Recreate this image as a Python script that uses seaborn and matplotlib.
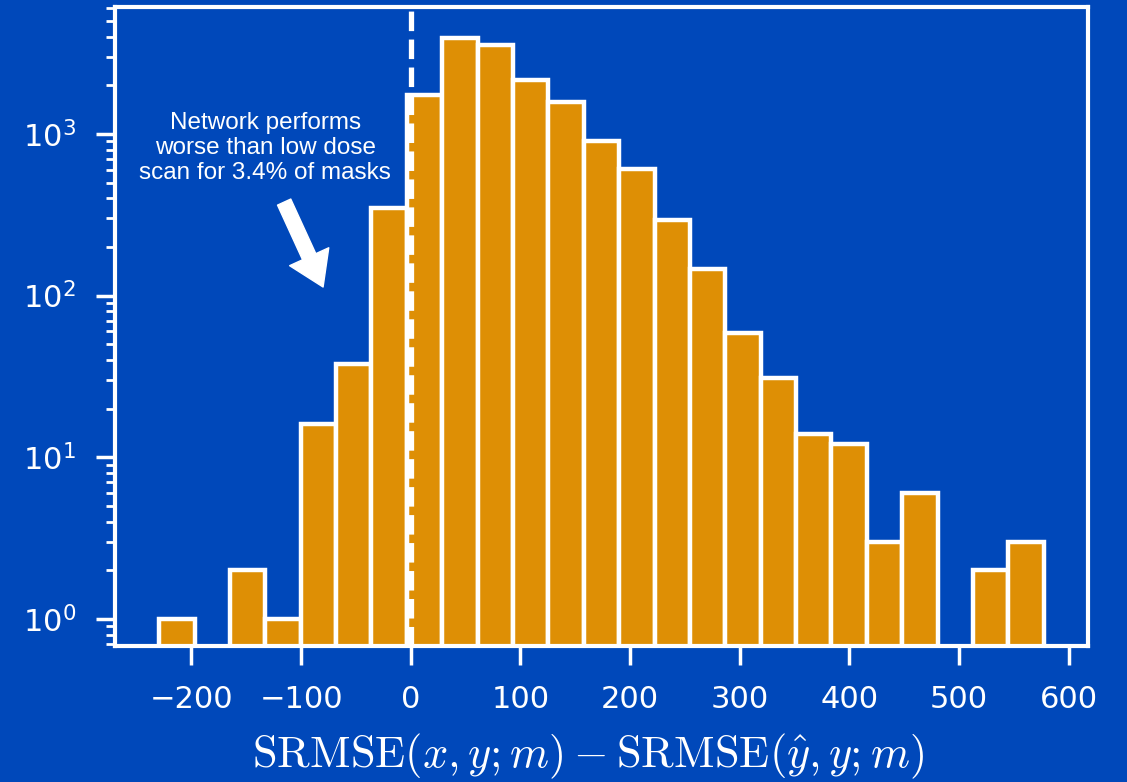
import numpy as np
import pandas as pd
import matplotlib
matplotlib.use("Agg")
import matplotlib.pyplot as plt
import seaborn as sns

# datos del histograma (conteos por bin)
bin_lo = -229.5
bin_hi = 577.3
n_bins = 25
counts = [1, 0, 2, 1, 16, 38, 348, 1740, 3918, 3548, 2153, 1575, 904,
          607, 294, 147, 59, 31, 14, 12, 3, 6, 0, 2, 3]
nota = "Network performs\nworse than low dose\nscan for 3.4% of masks"
etiqueta_x = r"$\mathrm{SRMSE}(x, y; m) - \mathrm{SRMSE}(\hat{y}, y; m)$"
x_ticks = [-200, -100, 0, 100, 200, 300, 400, 500, 600]

edges = np.linspace(bin_lo, bin_hi, n_bins + 1)
datos = pd.DataFrame({
    "centro": (edges[:-1] + edges[1:]) / 2,
    "conteo": counts,
})

azul = "#0048BA"
naranja = "#DE8F05"

fig = plt.figure(figsize=(11.27, 7.82), dpi=100, facecolor=azul)
ax = fig.add_axes([0.102, 0.174, 0.8634, 0.817], facecolor=azul)

sns.histplot(data=datos, x="centro", weights="conteo", bins=list(edges),
             color=naranja, edgecolor="white", linewidth=3.2, alpha=1, ax=ax)
ax.set_yscale("log")
ax.set_ylim(0.68, 6100)
ax.set_xlim(-269.8, 617.6)
ax.set_xticks(x_ticks)
ax.set_ylabel("")

ax.axvline(0, color="white", linestyle="--", linewidth=3.8, zorder=5)

# texto y flecha
ax.text(-132.8, 818, nota, ha="center", va="center", color="white",
        fontsize=17.5, family="Liberation Sans", linespacing=1.17)
ax.annotate("", xy=(-80, 113), xytext=(-115.5, 379),
            arrowprops=dict(facecolor="white", edgecolor="white",
                            width=10.5, headwidth=31, headlength=24, shrink=0))

for s in ax.spines.values():
    s.set_color("white")
    s.set_linewidth(3)

ax.tick_params(axis="both", which="major", colors="white", labelsize=22,
               length=14, width=2.5, pad=14)
ax.tick_params(axis="y", which="minor", colors="white", length=6.5, width=2)

ax.set_xlabel(etiqueta_x, color="white", fontsize=32, math_fontfamily="cm")
ax.xaxis.set_label_coords(0.486, -0.134)

plt.savefig("out.png", dpi=100, facecolor=azul)
